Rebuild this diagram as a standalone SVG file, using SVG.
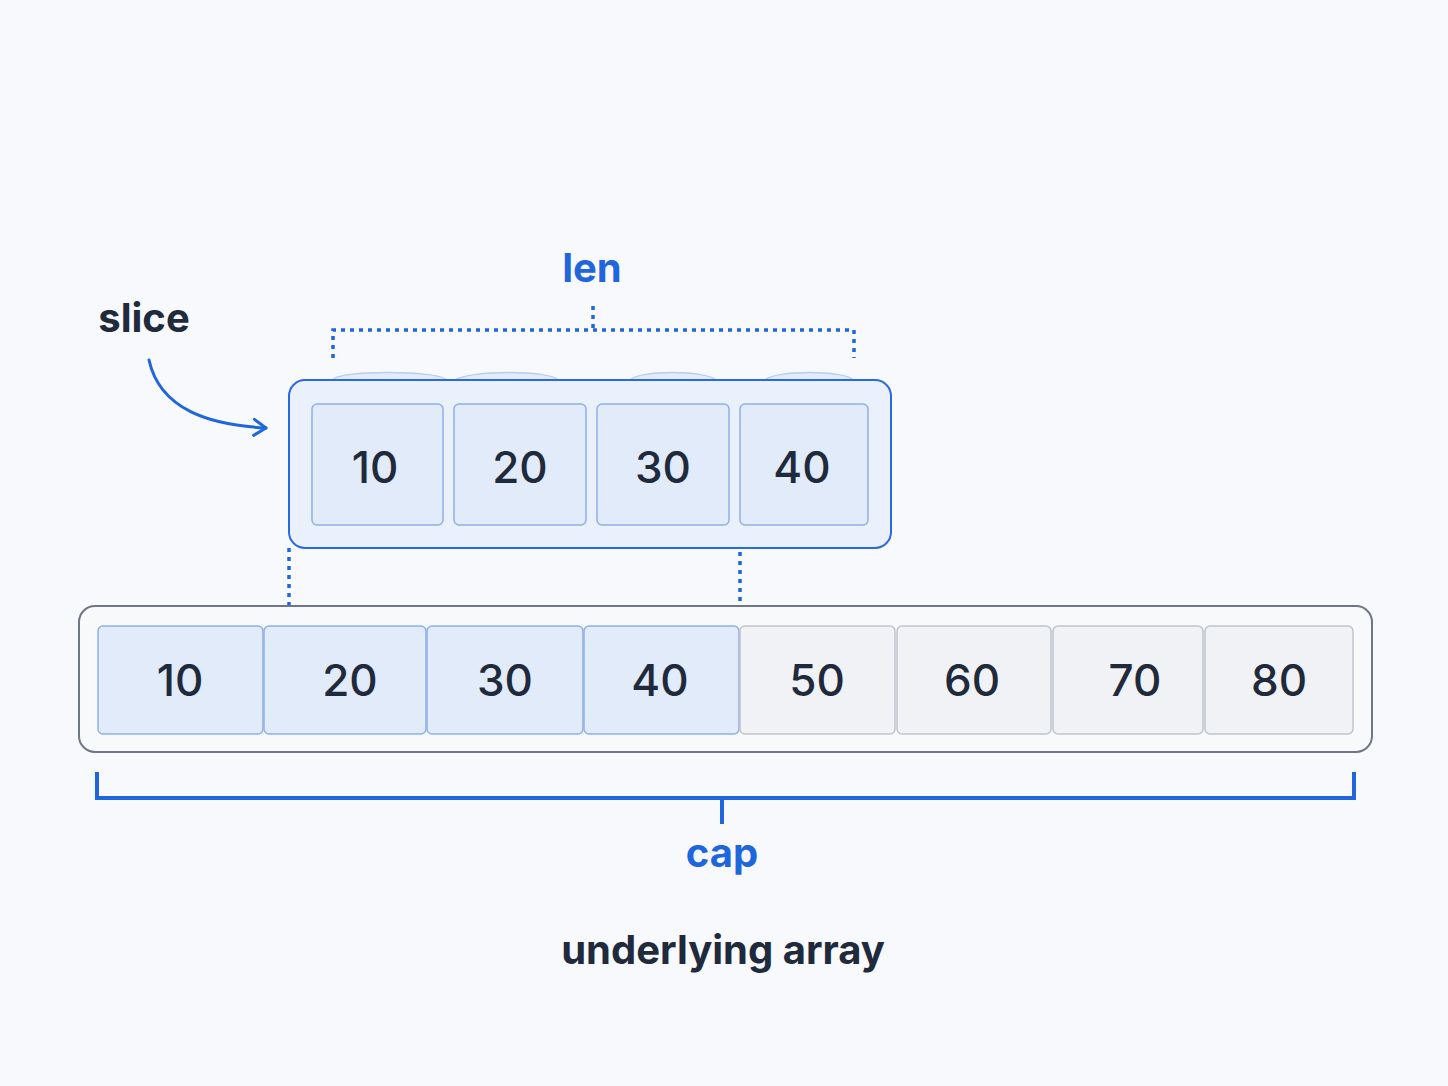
<svg xmlns="http://www.w3.org/2000/svg" width="1448" height="1086" viewBox="0 0 1448 1086">
<defs>
<style>
.bg{fill:#f7f9fc}
.num{font-family:Inter,"Noto Sans",sans-serif;font-size:44px;font-weight:500;fill:#1f2a3c;text-anchor:middle}
.lbl{font-family:Inter,"Noto Sans",sans-serif;font-size:40px;font-weight:700;text-anchor:middle}
.dark{fill:#1f2a3c}
.blue{fill:#1f66dc}
.bcell{fill:#e2ebfa;stroke:#8fb0ea;stroke-width:1.5}
.gcell{fill:#f1f2f5;stroke:#bfc4cd;stroke-width:1.5}
.dot{stroke:#1f66dc;stroke-width:3.5;stroke-dasharray:4 5;fill:none}
.solid{stroke:#1f66dc;stroke-width:4;fill:none}
</style>
<marker id="chev" viewBox="0 0 20 20" refX="16" refY="10" markerWidth="20" markerHeight="20" markerUnits="userSpaceOnUse" orient="auto">
<path d="M4 2 L16 10 L4 18" fill="none" stroke="#1f66dc" stroke-width="3" stroke-linecap="round" stroke-linejoin="round"/>
</marker>
</defs>
<rect class="bg" width="1448" height="1086"/>

<g id="connectors">
<path class="dot" d="M333 358 V330 H854 V358"/>
<path class="dot" d="M593 306 V330"/>
<path class="dot" d="M289 548 V628"/>
<path class="dot" d="M740 525 V628"/>
<path d="M149 360 C160 410 210 425 266 428" fill="none" stroke="#1f66dc" stroke-width="3" stroke-linecap="round" marker-end="url(#chev)"/>
<path class="solid" d="M97 772 V798 H1354 V772"/>
<path class="solid" d="M722 798 V824"/>
</g>

<g id="slice">
<path d="M333 380 C335 370 440 370 446 380 Z M455 380 C470 370 550 370 558 380 Z M630 380 C640 370 705 370 716 380 Z M765 380 C775 370 845 370 853 380 Z" fill="#e4ecfa" stroke="#b8cdf0" stroke-width="1.5"/>
<rect x="289" y="380" width="602" height="168" rx="16" fill="#ebf1fc" stroke="#2a6ae0" stroke-width="2"/>
<g id="s10"><rect class="bcell" x="312" y="404" width="131" height="121" rx="5"/><text class="num" x="375" y="483">10</text></g>
<g id="s20"><rect class="bcell" x="454" y="404" width="132" height="121" rx="5"/><text class="num" x="520" y="483">20</text></g>
<g id="s30"><rect class="bcell" x="597" y="404" width="132" height="121" rx="5"/><text class="num" x="663" y="483">30</text></g>
<g id="s40"><rect class="bcell" x="740" y="404" width="128" height="121" rx="5"/><text class="num" x="802" y="483">40</text></g>
</g>

<g id="array">
<rect x="79" y="606" width="1293" height="146" rx="16" fill="#f8f9fb" stroke="#6f7786" stroke-width="2"/>
<g id="a10"><rect class="bcell" x="98" y="626" width="165" height="108" rx="5"/><text class="num" x="180" y="696">10</text></g>
<g id="a20"><rect class="bcell" x="264" y="626" width="162" height="108" rx="5"/><text class="num" x="350" y="696">20</text></g>
<g id="a30"><rect class="bcell" x="427" y="626" width="156" height="108" rx="5"/><text class="num" x="505" y="696">30</text></g>
<g id="a40"><rect class="bcell" x="584" y="626" width="155" height="108" rx="5"/><text class="num" x="660" y="696">40</text></g>
<g id="a50"><rect class="gcell" x="740" y="626" width="155" height="108" rx="5"/><text class="num" x="817" y="696">50</text></g>
<g id="a60"><rect class="gcell" x="897" y="626" width="154" height="108" rx="5"/><text class="num" x="972" y="696">60</text></g>
<g id="a70"><rect class="gcell" x="1053" y="626" width="150" height="108" rx="5"/><text class="num" x="1135" y="696">70</text></g>
<g id="a80"><rect class="gcell" x="1205" y="626" width="148" height="108" rx="5"/><text class="num" x="1279" y="696">80</text></g>
</g>

<g id="labels">
<text class="lbl blue" x="592" y="282">len</text>
<text class="lbl dark" x="144" y="332">slice</text>
<text class="lbl blue" x="722" y="867">cap</text>
<text class="lbl dark" x="723" y="964">underlying array</text>
</g>
</svg>
